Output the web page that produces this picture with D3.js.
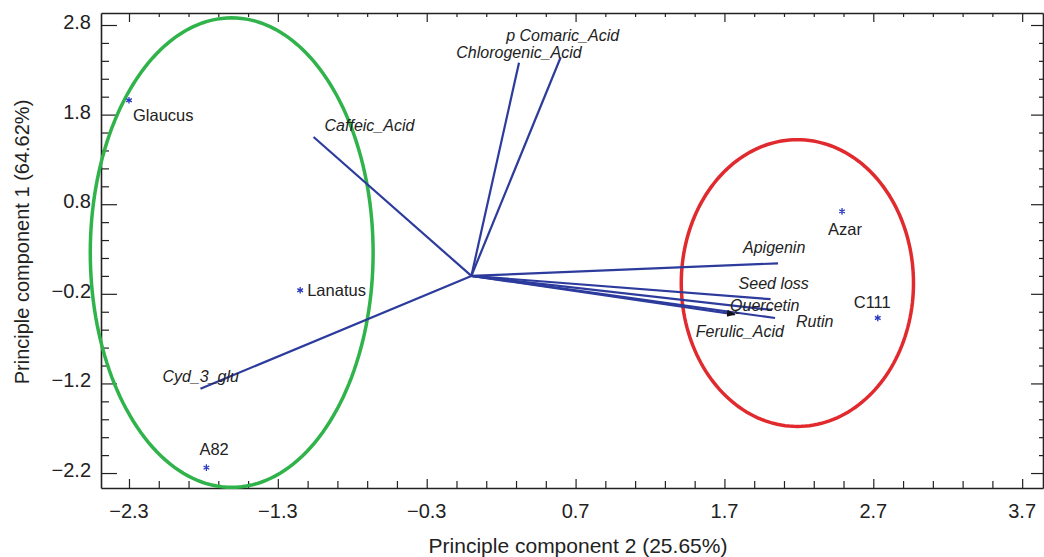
<!DOCTYPE html>
<html>
<head>
<meta charset="utf-8">
<script src="https://cdn.jsdelivr.net/npm/d3@7"></script>
<style>
  body { margin: 0; background: #fff; }
  svg { font-family: "Liberation Sans", Arial, sans-serif; }
</style>
</head>
<body>
<svg id="chart" width="1044" height="557"></svg>
<script>
// samples (scores)
const sampleNames = ['Glaucus', 'Lanatus', 'A82', 'Azar', 'C111'];
const sampleX = [-2.30, -1.15, -1.78, 2.49, 2.73];
const sampleY = [1.96, -0.16, -2.14, 0.72, -0.47];

// variables (loadings), drawn as rays from origin
const varNames = ['Chlorogenic_Acid', 'p Comaric_Acid', 'Caffeic_Acid', 'Cyd_3_glu',
                  'Apigenin', 'Seed loss', 'Quercetin', 'Rutin', 'Ferulic_Acid'];
const varX = [0.32, 0.60, -1.06, -1.82, 2.06, 2.01, 2.02, 2.04, 1.77];
const varY = [2.38, 2.44, 1.55, -1.26, 0.14, -0.26, -0.38, -0.47, -0.43];

// group ellipses: centre and radii in data units
const groupNames = ['green', 'red'];
const groupCx = [-1.61, 2.19];
const groupCy = [0.26, -0.08];
const groupRx = [0.95, 0.78];
const groupRy = [2.62, 1.60];

const xTicks = [-2.3, -1.3, -0.3, 0.7, 1.7, 2.7, 3.7];
const yTicks = [2.8, 1.8, 0.8, -0.2, -1.2, -2.2];

const svg = d3.select('#chart');
const x = d3.scaleLinear().domain([-2.488, 3.84]).range([101, 1043]);
const y = d3.scaleLinear().domain([-2.367, 2.934]).range([488, 13]);

const fmt = d3.format('.1f');
const xMinor = d3.range(-2.3, 3.8, 0.2).map(v => +v.toFixed(2)).filter(v => v > x.domain()[0] && v < x.domain()[1]);
const yMinor = d3.range(-2.2, 2.95, 0.2).map(v => +v.toFixed(2)).filter(v => v > y.domain()[0] && v < y.domain()[1]);
const isMajor = (v, ticks) => ticks.some(t => Math.abs(t - v) < 1e-6);

// axes: bottom / top / left / right, ticks pointing inward
const axes = svg.append('g').attr('class', 'axes');

axes.append('g')
  .attr('transform', 'translate(0,488)')
  .call(d3.axisBottom(x).tickValues(xMinor).tickSize(0).tickFormat(''))
  .call(g => g.select('.domain').attr('stroke', '#222').attr('stroke-width', 1.6))
  .call(g => g.selectAll('.tick line')
      .attr('y2', d => isMajor(d, xTicks) ? -9 : -7).attr('stroke', '#222').attr('stroke-width', 1.2));

axes.append('g')
  .attr('transform', 'translate(0,13)')
  .call(d3.axisTop(x).tickValues(xMinor).tickSize(0).tickFormat(''))
  .call(g => g.select('.domain').attr('stroke', '#222').attr('stroke-width', 1.6))
  .call(g => g.selectAll('.tick line')
      .attr('y2', d => isMajor(d, xTicks) ? 9 : 4).attr('stroke', '#222').attr('stroke-width', 1.2));

axes.append('g')
  .attr('transform', 'translate(101,0)')
  .call(d3.axisLeft(y).tickValues(yMinor).tickSize(0).tickFormat(''))
  .call(g => g.select('.domain').attr('stroke', '#222').attr('stroke-width', 1.6))
  .call(g => g.selectAll('.tick line')
      .attr('x2', d => isMajor(d, yTicks) ? 16 : 8).attr('stroke', '#222').attr('stroke-width', 1.2));

axes.append('g')
  .attr('transform', 'translate(1043,0)')
  .call(d3.axisRight(y).tickValues(yMinor).tickSize(0).tickFormat(''))
  .call(g => g.select('.domain').attr('stroke', '#222').attr('stroke-width', 1.6))
  .call(g => g.selectAll('.tick line')
      .attr('x2', d => isMajor(d, yTicks) ? -12 : -4).attr('stroke', '#222').attr('stroke-width', 1.2));

// tick labels
svg.append('g').selectAll('text').data(xTicks).join('text')
  .attr('x', d => x(d)).attr('y', 518)
  .attr('text-anchor', 'middle')
  .style('font-size', '20px').attr('fill', '#222')
  .text(d => fmt(d));

svg.append('g').selectAll('text').data(yTicks).join('text')
  .attr('x', 91).attr('y', d => y(d) + 4)
  .attr('text-anchor', 'end')
  .style('font-size', '20px').attr('fill', '#222')
  .text(d => fmt(d));

// axis titles
svg.append('text')
  .attr('x', 578).attr('y', 553)
  .attr('text-anchor', 'middle')
  .style('font-size', '21px').attr('fill', '#222')
  .text('Principle component 2 (25.65%)');

svg.append('text')
  .attr('transform', 'translate(29,242) rotate(-90)')
  .attr('text-anchor', 'middle')
  .style('font-size', '20px').attr('fill', '#222')
  .text('Principle component 1 (64.62%)');

// ellipses
const ellColor = { green: '#2fb34a', red: '#e02a2e' };
const line = d3.line().x(d => x(d[0])).y(d => y(d[1])).curve(d3.curveLinearClosed);
groupNames.forEach((name, i) => {
  const pts = d3.range(0, 360, 2).map(a => {
    const t = a * Math.PI / 180;
    return [groupCx[i] + groupRx[i] * Math.cos(t), groupCy[i] + groupRy[i] * Math.sin(t)];
  });
  svg.append('path')
    .attr('d', line(pts))
    .attr('fill', 'none')
    .attr('stroke', ellColor[name])
    .attr('stroke-width', 3.5);
});

// loading rays
svg.append('defs').append('marker')
  .attr('id', 'arrow')
  .attr('viewBox', '0 0 10 10')
  .attr('refX', 9).attr('refY', 5)
  .attr('markerWidth', 4).attr('markerHeight', 4)
  .attr('orient', 'auto')
  .append('path').attr('d', 'M0,1 L10,5 L0,9 Z').attr('fill', '#111');

const rays = svg.append('g');
varNames.forEach((name, i) => {
  rays.append('line')
    .attr('x1', x(0)).attr('y1', y(0))
    .attr('x2', x(varX[i])).attr('y2', y(varY[i]))
    .attr('stroke', '#2c3b9c')
    .attr('stroke-width', 2.2)
    .attr('marker-end', name === 'Ferulic_Acid' ? 'url(#arrow)' : null);
});

// loading labels, offsets in px from ray end
const varLabelOff = {
  'Chlorogenic_Acid': [0, -5, 'middle'],
  'p Comaric_Acid': [2, -16, 'middle'],
  'Caffeic_Acid': [11, -6, 'start'],
  'Cyd_3_glu': [-38, -7, 'start'],
  'Apigenin': [-35, -10, 'start'],
  'Seed loss': [-32, -10, 'start'],
  'Quercetin': [-42, 1, 'start'],
  'Rutin': [21, 9, 'start'],
  'Ferulic_Acid': [-39, 23, 'start']
};
svg.append('g').selectAll('text').data(varNames).join('text')
  .attr('x', (d, i) => x(varX[i]) + varLabelOff[d][0])
  .attr('y', (d, i) => y(varY[i]) + varLabelOff[d][1])
  .attr('text-anchor', d => varLabelOff[d][2])
  .style('font-size', '16px').style('font-style', 'italic')
  .attr('fill', '#222')
  .text(d => d);

// sample points
const star = d3.symbol().type(d3.symbolAsterisk).size(30);
svg.append('g').selectAll('path').data(sampleNames).join('path')
  .attr('transform', (d, i) => `translate(${x(sampleX[i])},${y(sampleY[i])})`)
  .attr('d', star)
  .attr('fill', 'none')
  .attr('stroke', '#2838c0')
  .attr('stroke-width', 1.3);

const sampleLabelOff = {
  'Glaucus': [4, 21], 'Lanatus': [7, 6], 'A82': [-7, -13], 'Azar': [-14, 24], 'C111': [-24, -10]
};
svg.append('g').selectAll('text').data(sampleNames).join('text')
  .attr('x', (d, i) => x(sampleX[i]) + sampleLabelOff[d][0])
  .attr('y', (d, i) => y(sampleY[i]) + sampleLabelOff[d][1])
  .style('font-size', '16.5px')
  .attr('fill', '#222')
  .text(d => d);
</script>
</body>
</html>
